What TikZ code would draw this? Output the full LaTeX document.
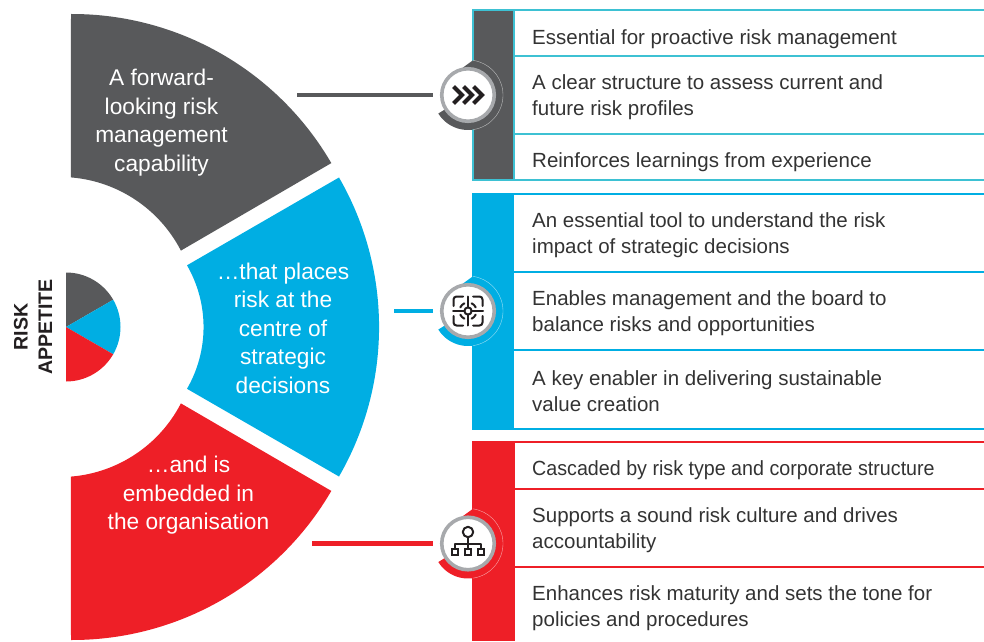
\documentclass[tikz,border=0pt]{standalone}
\usepackage{fontspec}
\usetikzlibrary{calc}
\setmainfont{Liberation Sans}
\definecolor{fangray}{HTML}{58595B}
\definecolor{fanblue}{HTML}{00AEE3}
\definecolor{fanred}{HTML}{EE1F27}
\definecolor{tealline}{HTML}{3DC1D3}
\definecolor{ringgray}{HTML}{A7A9AC}
\definecolor{bodytext}{HTML}{333333}
\definecolor{icondark}{HTML}{231F20}
\begin{document}
\begin{tikzpicture}[x=1pt, y=1pt,
	item/.style = {anchor=west, align=left, inner sep=0pt, text=bodytext, font=\fontsize{20.5}{26}\selectfont},
	fantext/.style = {align=center, inner sep=0pt, text=white, font=\fontsize{22.7}{28.5}\selectfont},
	sidetext/.style = {align=center, inner sep=0pt, rotate=90, text=icondark, font=\bfseries\fontsize{19.6}{24.5}\selectfont},
	rowline/.style = {line width=2pt},
	link/.style = {line width=4.5pt},
	ring/.style = {draw=ringgray, fill=white, circle, line width=3.6pt, minimum size=52.5pt, inner sep=0pt, outer sep=8.6pt},
	icon/.style = {draw=icondark, line width=2pt, line cap=round, line join=round}]
	\useasboundingbox (0,0) rectangle (984,641);

	\fill[fangray] (71,627) arc[start angle=90.2, end angle=30.2, radius=300] -- (180.9,390.4) arc[start angle=27.3, end angle=85.4, radius=136] -- cycle;
	\fill[fanblue] (339,463.5) arc[start angle=30, end angle=-30, radius=299] -- (187,252.2) arc[start angle=-30, end angle=30, radius=123.5] -- cycle;
	\fill[fanred] (71,1) arc[start angle=-90.2, end angle=-30.2, radius=300] -- (180.9,237.6) arc[start angle=-27.3, end angle=-85.4, radius=136] -- cycle;

	\fill[fangray] (66,314) -- (66,368.5) arc[start angle=90, end angle=30, radius=54.5] -- cycle;
	\fill[fanblue] (66,314) -- ++(30:54.5) arc[start angle=30, end angle=-30, radius=54.5] -- cycle;
	\fill[fanred] (66,314) -- ++(-30:54.5) arc[start angle=-30, end angle=-90, radius=54.5] -- cycle;
	\node[sidetext] (side) at (33,314) {RISK\\APPETITE};

	\node[fantext] (graytext) at (161.5,518.5) {A forward-\\looking risk\\management\\capability};
	\node[fantext] (bluetext) at (283,313) {…that places\\risk at the\\centre of\\strategic\\decisions};
	\node[fantext] (redtext) at (188.5,145.5) {…and is\\embedded in\\the organisation};

	\foreach \y in {631,585,507,460.5}
		\draw[rowline, tealline] (473,\y) -- (984,\y);
	\foreach \y in {447,369,291,212}
		\draw[rowline, fanblue] (473,\y) -- (984,\y);
	\foreach \y in {199.5,152,74}
		\draw[rowline, fanred] (473,\y) -- (984,\y);
	\draw[line width=2pt, tealline, fill=fangray] (473,460.5) rectangle (514,631);
	\fill[fanblue] (472,211) rectangle (514,448);
	\fill[fanred] (472,0) rectangle (515,200.5);

	\foreach \n/\y/\x/\col in {gray/546/297/fangray, blue/330/394/fanblue, red/97.5/312/fanred} {
		\coordinate (\n-mid) at (468,\y);
		\fill[\col] (\n-mid) -- ++(212:35) arc[start angle=212, end angle=442, radius=35] -- ($(\n-mid)+(100:28)$) -- cycle;
		\draw[white, opacity=.6, line width=.4pt] (\n-mid) ++(-82:35) arc[start angle=-82, end angle=82, radius=35];
		\node[ring] (\n-icon) at (\n-mid) {};
		\coordinate (\n-start) at (\x,\y);
		\draw[link, \col] (\n-start) -- (\n-icon);
	}

	\foreach \x in {0,10,20}
		\draw[icon, line width=4.2pt, line cap=butt, line join=miter] (453.5+\x,554.5) -- (462+\x,546) -- (453.5+\x,537.5);

	\begin{scope}[shift={(blue-mid)}]
		\draw[icon] (0,0) circle (3.6);
		\draw[icon] (-15,0) -- (-3.6,0) (3.6,0) -- (15,0) (0,14.5) -- (0,3.6) (0,-3.6) -- (0,-14.5);
		\foreach \a in {0,90,180,270} {
			\draw[icon, rotate=\a, rounded corners=3pt] (14.5,5) -- (14.5,14.5) -- (5,14.5);
			\draw[icon, rotate=\a] (25:8.5) arc[start angle=25, end angle=65, radius=8.5];
		}
	\end{scope}

	\begin{scope}[shift={(red-mid)}]
		\draw[icon] (0,11.5) circle (5.2);
		\draw[icon] (0,6.3) -- (0,-5.5) (-13,-5.5) -- (-13,0) -- (13,0) -- (13,-5.5);
		\foreach \x in {-13,0,13}
			\draw[icon, line cap=butt, line join=miter] (\x-3,-5.5) rectangle (\x+3,-11.5);
	\end{scope}

	\node[item] (g1) at (532,602) {Essential for proactive risk management};
	\node[item] (g2) at (532,543.5) {A clear structure to assess current and\\future risk profiles};
	\node[item] (g3) at (532,478.5) {Reinforces learnings from experience};
	\node[item] (b1) at (532,405.5) {An essential tool to understand the risk\\impact of strategic decisions};
	\node[item] (b2) at (532,327.5) {Enables management and the board to\\balance risks and opportunities};
	\node[item] (b3) at (532,250) {A key enabler in delivering sustainable\\value creation};
	\node[item, xscale=.96] (r1) at (532,170.5) {Cascaded by risk type and corporate structure};
	\node[item] (r2) at (532,110.5) {Supports a sound risk culture and drives\\accountability};
	\node[item] (r3) at (532,32.5) {Enhances risk maturity and sets the tone for\\policies and procedures};
\end{tikzpicture}
\end{document}
